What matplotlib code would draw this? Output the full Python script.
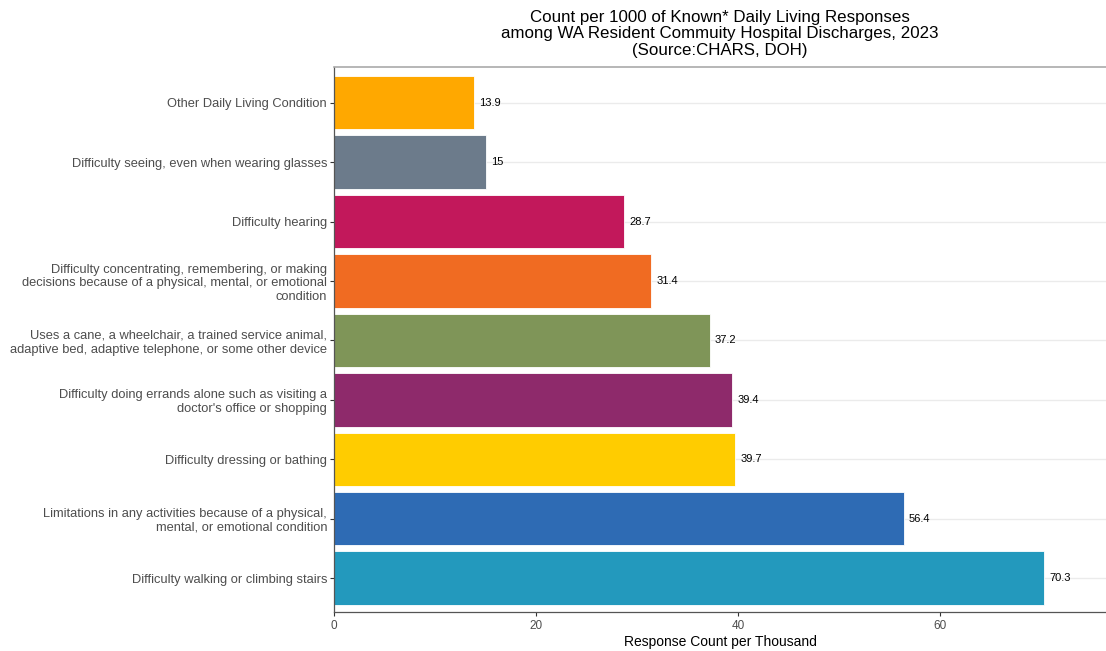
import matplotlib
matplotlib.use('Agg')
import matplotlib.pyplot as plt

plt.rcParams['font.family'] = ['Liberation Sans', 'DejaVu Sans']

# categories from bottom to top
categories = [
    'Difficulty walking or climbing stairs',
    'Limitations in any activities because of a physical,\nmental, or emotional condition',
    'Difficulty dressing or bathing',
    "Difficulty doing errands alone such as visiting a\ndoctor's office or shopping",
    'Uses a cane, a wheelchair, a trained service animal,\nadaptive bed, adaptive telephone, or some other device',
    'Difficulty concentrating, remembering, or making\ndecisions because of a physical, mental, or emotional\ncondition',
    'Difficulty hearing',
    'Difficulty seeing, even when wearing glasses',
    'Other Daily Living Condition',
]
values = [70.3, 56.4, 39.7, 39.4, 37.2, 31.4, 28.7, 15, 13.9]
colors = ['#2399BD', '#2E6BB4', '#FFCC00', '#8E2A6B', '#7F9558',
          '#F06B22', '#C2185B', '#6C7B8B', '#FFA800']
xticks = [0, 20, 40, 60]

fig = plt.figure(figsize=(11.06, 6.51), dpi=100)
ax = fig.add_axes([334 / 1106, 39 / 651, 1 - 334 / 1106, (612 - 67) / 651])

pos = list(range(1, len(categories) + 1))
for y in pos:
    ax.axhline(y, color='#EBEBEB', lw=1, zorder=0)
ax.barh(pos, values, height=0.9, color=colors, edgecolor='white', linewidth=0.6, zorder=2)

for y, v in zip(pos, values):
    ax.text(v + 0.5, y, f'{v:g}', va='center', ha='left', fontsize=8, color='black', zorder=3)

ax.set_yticks(pos)
ax.set_yticklabels(categories, fontsize=9.3, color='#4D4D4D')
ax.set_xticks(xticks)
ax.set_xticklabels([str(t) for t in xticks], fontsize=8.5, color='#4D4D4D')
ax.set_xlim(0, 76.4)
ax.set_ylim(0.43, 9.6)
ax.tick_params(axis='y', length=3, color='#333333', width=0.8, pad=2)
ax.tick_params(axis='x', length=3, color='#333333', width=0.8, pad=3)

for side in ['left', 'bottom']:
    ax.spines[side].set_color('#555555')
    ax.spines[side].set_linewidth(0.9)
ax.spines['top'].set_color('#AAAAAA')
ax.spines['top'].set_linewidth(1.2)
ax.spines['right'].set_visible(False)

ax.set_xlabel('Response Count per Thousand', fontsize=10, color='black', labelpad=2)
ax.set_title('Count per 1000 of Known* Daily Living Responses\n'
             'among WA Resident Commuity Hospital Discharges, 2023\n'
             '(Source:CHARS, DOH)', fontsize=12.2, linespacing=1.1, pad=9)

fig.savefig('out.png', dpi=100)
